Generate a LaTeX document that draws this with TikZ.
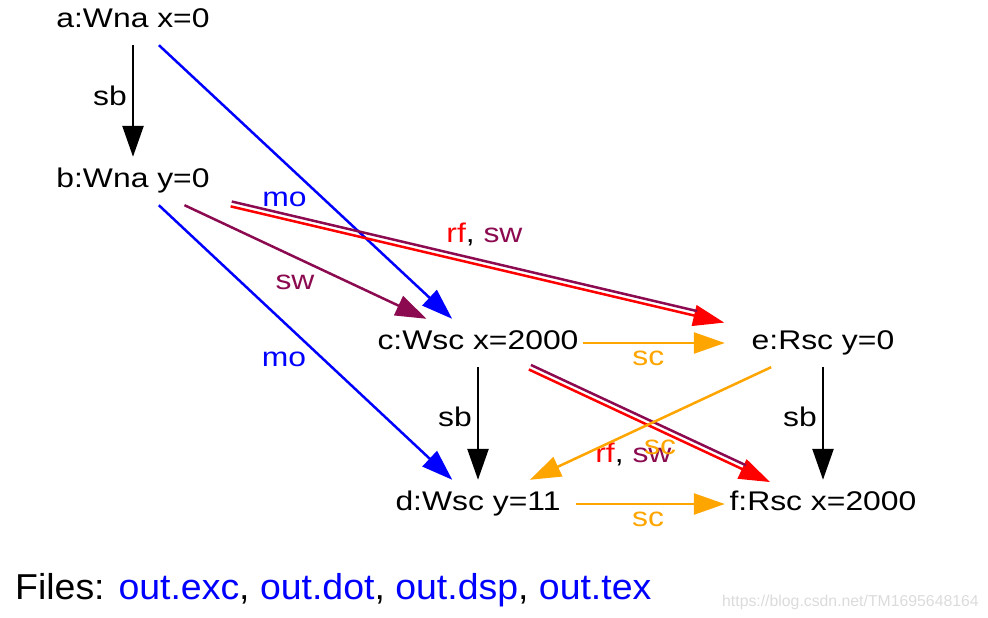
\documentclass[tikz,border=0pt]{standalone}
\usepackage{fontspec}
\setmainfont{Liberation Sans}
\newfontfamily\gvfont[FakeStretch=1.18]{Liberation Sans}
\newfontfamily\filesfont[FakeStretch=1.04]{Liberation Sans}
\usepackage{xcolor}
\usetikzlibrary{arrows.meta}
\definecolor{swcol}{HTML}{8B0A50}
\definecolor{sccol}{HTML}{FFA500}

\begin{document}
\begin{tikzpicture}
    [x=1pt, y=-1pt, >={Triangle[length=31pt,width=21pt]}, rel/.style={line width=2.5pt, ->},
    evt/.style={rectangle, minimum width=196pt, minimum height=48pt, inner xsep=4pt, inner ysep=0pt,
    text height=20pt, text depth=6.5pt, font=\gvfont\fontsize{27}{32}\selectfont},
    lbl/.style={inner sep=0pt, text height=19.5pt, text depth=0pt, font=\gvfont\fontsize{27}{32}\selectfont}]
    \useasboundingbox (0,0) rectangle (988,618);

    % Nodes placement
    \node [evt] (a) at (133,21) {a:Wna x=0};
    \node [evt] (b) at (133,181) {b:Wna y=0};
    \node [evt] (c) at (478,343) {c:Wsc x=2000};
    \node [evt] (e) at (823,343) {e:Rsc y=0};
    \node [evt] (d) at (478,504) {d:Wsc y=11};
    \node [evt] (f) at (823,504) {f:Rsc x=2000};

    % Draw edges
    \draw[rel] (a) -- node[lbl, shift={(-23,-5.75)}] (sbab) {sb} (b);
    \draw[rel, blue] (a) -- node[lbl, shift={(-21,15)}] (moac) {mo} (c);
    \draw[rel, swcol] (b) -- node[lbl, shift={(-10.5,18)}] (swbc) {sw} (c);
    \draw[rel, blue] (b) -- node[lbl, shift={(-21.5,14.5)}] (mobd) {mo} (d);

    % rf and sw as two parallel lines, red one with the head
    \draw[rel, red, transform canvas={shift={(-0.56,2.43)}}] (b) -- node[lbl, text=black, shift={(7,-32)}] (rfbe)
        {\textcolor{red}{rf}, \textcolor{swcol}{sw}} (e);
    \draw[rel, -, swcol, shorten >=29pt, transform canvas={shift={(0.56,-2.43)}}] (b) -- (e);
    \draw[rel, red, transform canvas={shift={(-1.07,2.26)}}] (c) -- node[lbl, text=black, shift={(-16,26.5)}] (rfcf)
        {\textcolor{red}{rf}, \textcolor{swcol}{sw}} (f);
    \draw[rel, -, swcol, shorten >=29pt, transform canvas={shift={(1.07,-2.26)}}] (c) -- (f);

    \draw[rel, sccol] (c) -- node[lbl, shift={(-5.5,13)}] (scce) {sc} (e);
    \draw[rel] (c) -- node[lbl, shift={(-23,-6.5)}] (sbcd) {sb} (d);
    \draw[rel, sccol] (e) -- node[lbl, shift={(9.5,21.5)}] (sced) {sc} (d);
    \draw[rel] (e) -- node[lbl, shift={(-23,-6.5)}] (sbef) {sb} (f);
    \draw[rel, sccol] (d) -- node[lbl, shift={(-2.5,13)}] (scdf) {sc} (f);

    % File list and watermark
    \node [anchor=base west, inner sep=0pt, font=\filesfont\fontsize{36}{43}\selectfont] (files) at (15,599)
        {Files: \textcolor{blue}{out.exc}, \textcolor{blue}{out.dot}, \textcolor{blue}{out.dsp}, \textcolor{blue}{out.tex}};
    \node [anchor=base west, inner sep=0pt, text=black!14, font=\fontsize{15.8}{19}\selectfont] (wmark) at (722,606)
        {https://blog.csdn.net/TM1695648164};
\end{tikzpicture}
\end{document}
